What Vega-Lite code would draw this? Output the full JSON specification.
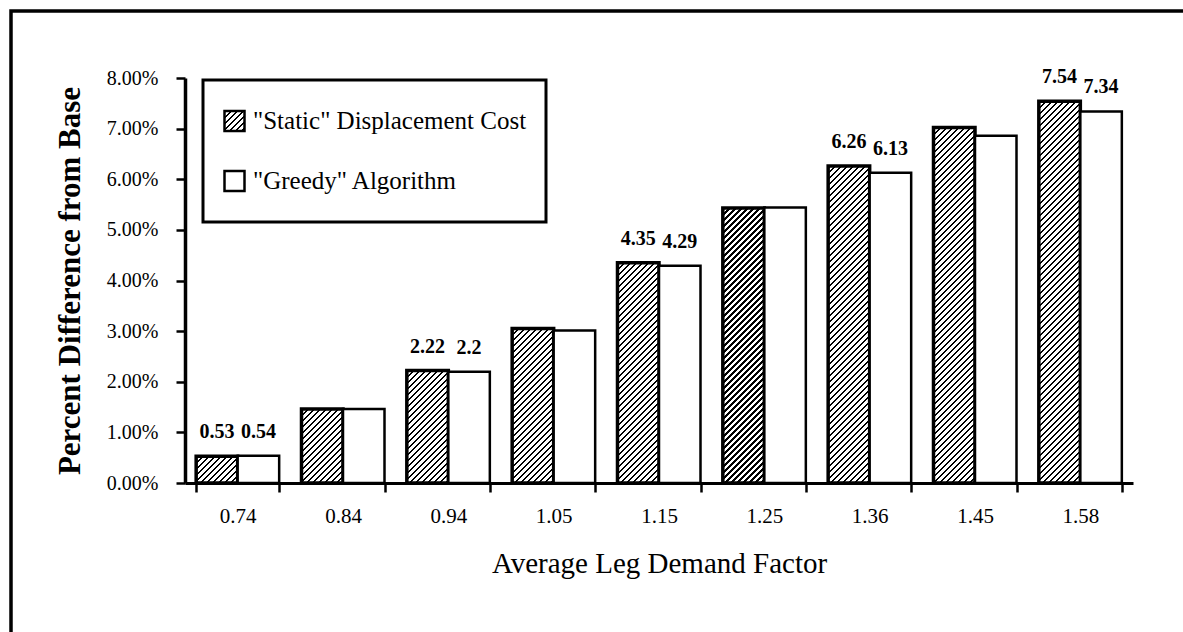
{
  "$schema": "https://vega.github.io/schema/vega-lite/v6.json",
  "width": 1183,
  "height": 632,
  "autosize": {"type": "none"},
  "padding": {"left": 11, "top": 11, "right": -11, "bottom": -11},
  "background": "white",
  "config": {
    "view": {"stroke": "black", "strokeWidth": 3.5},
    "font": "Liberation Serif",
    "legend": {"strokeWidth": 3}
  },
  "params": [
    {
      "name": "hatch",
      "value": [
        {"offset":0.00,"color":"#000"},{"offset":0.0035,"color":"#000"},{"offset":0.0035,"color":"#fff"},{"offset":0.01,"color":"#fff"},
        {"offset":0.01,"color":"#000"},{"offset":0.0135,"color":"#000"},{"offset":0.0135,"color":"#fff"},{"offset":0.02,"color":"#fff"},
        {"offset":0.02,"color":"#000"},{"offset":0.0235,"color":"#000"},{"offset":0.0235,"color":"#fff"},{"offset":0.03,"color":"#fff"},
        {"offset":0.03,"color":"#000"},{"offset":0.0335,"color":"#000"},{"offset":0.0335,"color":"#fff"},{"offset":0.04,"color":"#fff"},
        {"offset":0.04,"color":"#000"},{"offset":0.0435,"color":"#000"},{"offset":0.0435,"color":"#fff"},{"offset":0.05,"color":"#fff"},
        {"offset":0.05,"color":"#000"},{"offset":0.0535,"color":"#000"},{"offset":0.0535,"color":"#fff"},{"offset":0.06,"color":"#fff"},
        {"offset":0.06,"color":"#000"},{"offset":0.0635,"color":"#000"},{"offset":0.0635,"color":"#fff"},{"offset":0.07,"color":"#fff"},
        {"offset":0.07,"color":"#000"},{"offset":0.0735,"color":"#000"},{"offset":0.0735,"color":"#fff"},{"offset":0.08,"color":"#fff"},
        {"offset":0.08,"color":"#000"},{"offset":0.0835,"color":"#000"},{"offset":0.0835,"color":"#fff"},{"offset":0.09,"color":"#fff"},
        {"offset":0.09,"color":"#000"},{"offset":0.0935,"color":"#000"},{"offset":0.0935,"color":"#fff"},{"offset":0.10,"color":"#fff"},
        {"offset":0.10,"color":"#000"},{"offset":0.1035,"color":"#000"},{"offset":0.1035,"color":"#fff"},{"offset":0.11,"color":"#fff"},
        {"offset":0.11,"color":"#000"},{"offset":0.1135,"color":"#000"},{"offset":0.1135,"color":"#fff"},{"offset":0.12,"color":"#fff"},
        {"offset":0.12,"color":"#000"},{"offset":0.1235,"color":"#000"},{"offset":0.1235,"color":"#fff"},{"offset":0.13,"color":"#fff"},
        {"offset":0.13,"color":"#000"},{"offset":0.1335,"color":"#000"},{"offset":0.1335,"color":"#fff"},{"offset":0.14,"color":"#fff"},
        {"offset":0.14,"color":"#000"},{"offset":0.1435,"color":"#000"},{"offset":0.1435,"color":"#fff"},{"offset":0.15,"color":"#fff"},
        {"offset":0.15,"color":"#000"},{"offset":0.1535,"color":"#000"},{"offset":0.1535,"color":"#fff"},{"offset":0.16,"color":"#fff"},
        {"offset":0.16,"color":"#000"},{"offset":0.1635,"color":"#000"},{"offset":0.1635,"color":"#fff"},{"offset":0.17,"color":"#fff"},
        {"offset":0.17,"color":"#000"},{"offset":0.1735,"color":"#000"},{"offset":0.1735,"color":"#fff"},{"offset":0.18,"color":"#fff"},
        {"offset":0.18,"color":"#000"},{"offset":0.1835,"color":"#000"},{"offset":0.1835,"color":"#fff"},{"offset":0.19,"color":"#fff"},
        {"offset":0.19,"color":"#000"},{"offset":0.1935,"color":"#000"},{"offset":0.1935,"color":"#fff"},{"offset":0.20,"color":"#fff"},
        {"offset":0.20,"color":"#000"},{"offset":0.2035,"color":"#000"},{"offset":0.2035,"color":"#fff"},{"offset":0.21,"color":"#fff"},
        {"offset":0.21,"color":"#000"},{"offset":0.2135,"color":"#000"},{"offset":0.2135,"color":"#fff"},{"offset":0.22,"color":"#fff"},
        {"offset":0.22,"color":"#000"},{"offset":0.2235,"color":"#000"},{"offset":0.2235,"color":"#fff"},{"offset":0.23,"color":"#fff"},
        {"offset":0.23,"color":"#000"},{"offset":0.2335,"color":"#000"},{"offset":0.2335,"color":"#fff"},{"offset":0.24,"color":"#fff"},
        {"offset":0.24,"color":"#000"},{"offset":0.2435,"color":"#000"},{"offset":0.2435,"color":"#fff"},{"offset":0.25,"color":"#fff"},
        {"offset":0.25,"color":"#000"},{"offset":0.2535,"color":"#000"},{"offset":0.2535,"color":"#fff"},{"offset":0.26,"color":"#fff"},
        {"offset":0.26,"color":"#000"},{"offset":0.2635,"color":"#000"},{"offset":0.2635,"color":"#fff"},{"offset":0.27,"color":"#fff"},
        {"offset":0.27,"color":"#000"},{"offset":0.2735,"color":"#000"},{"offset":0.2735,"color":"#fff"},{"offset":0.28,"color":"#fff"},
        {"offset":0.28,"color":"#000"},{"offset":0.2835,"color":"#000"},{"offset":0.2835,"color":"#fff"},{"offset":0.29,"color":"#fff"},
        {"offset":0.29,"color":"#000"},{"offset":0.2935,"color":"#000"},{"offset":0.2935,"color":"#fff"},{"offset":0.30,"color":"#fff"},
        {"offset":0.30,"color":"#000"},{"offset":0.3035,"color":"#000"},{"offset":0.3035,"color":"#fff"},{"offset":0.31,"color":"#fff"},
        {"offset":0.31,"color":"#000"},{"offset":0.3135,"color":"#000"},{"offset":0.3135,"color":"#fff"},{"offset":0.32,"color":"#fff"},
        {"offset":0.32,"color":"#000"},{"offset":0.3235,"color":"#000"},{"offset":0.3235,"color":"#fff"},{"offset":0.33,"color":"#fff"},
        {"offset":0.33,"color":"#000"},{"offset":0.3335,"color":"#000"},{"offset":0.3335,"color":"#fff"},{"offset":0.34,"color":"#fff"},
        {"offset":0.34,"color":"#000"},{"offset":0.3435,"color":"#000"},{"offset":0.3435,"color":"#fff"},{"offset":0.35,"color":"#fff"},
        {"offset":0.35,"color":"#000"},{"offset":0.3535,"color":"#000"},{"offset":0.3535,"color":"#fff"},{"offset":0.36,"color":"#fff"},
        {"offset":0.36,"color":"#000"},{"offset":0.3635,"color":"#000"},{"offset":0.3635,"color":"#fff"},{"offset":0.37,"color":"#fff"},
        {"offset":0.37,"color":"#000"},{"offset":0.3735,"color":"#000"},{"offset":0.3735,"color":"#fff"},{"offset":0.38,"color":"#fff"},
        {"offset":0.38,"color":"#000"},{"offset":0.3835,"color":"#000"},{"offset":0.3835,"color":"#fff"},{"offset":0.39,"color":"#fff"},
        {"offset":0.39,"color":"#000"},{"offset":0.3935,"color":"#000"},{"offset":0.3935,"color":"#fff"},{"offset":0.40,"color":"#fff"},
        {"offset":0.40,"color":"#000"},{"offset":0.4035,"color":"#000"},{"offset":0.4035,"color":"#fff"},{"offset":0.41,"color":"#fff"},
        {"offset":0.41,"color":"#000"},{"offset":0.4135,"color":"#000"},{"offset":0.4135,"color":"#fff"},{"offset":0.42,"color":"#fff"},
        {"offset":0.42,"color":"#000"},{"offset":0.4235,"color":"#000"},{"offset":0.4235,"color":"#fff"},{"offset":0.43,"color":"#fff"},
        {"offset":0.43,"color":"#000"},{"offset":0.4335,"color":"#000"},{"offset":0.4335,"color":"#fff"},{"offset":0.44,"color":"#fff"},
        {"offset":0.44,"color":"#000"},{"offset":0.4435,"color":"#000"},{"offset":0.4435,"color":"#fff"},{"offset":0.45,"color":"#fff"},
        {"offset":0.45,"color":"#000"},{"offset":0.4535,"color":"#000"},{"offset":0.4535,"color":"#fff"},{"offset":0.46,"color":"#fff"},
        {"offset":0.46,"color":"#000"},{"offset":0.4635,"color":"#000"},{"offset":0.4635,"color":"#fff"},{"offset":0.47,"color":"#fff"},
        {"offset":0.47,"color":"#000"},{"offset":0.4735,"color":"#000"},{"offset":0.4735,"color":"#fff"},{"offset":0.48,"color":"#fff"},
        {"offset":0.48,"color":"#000"},{"offset":0.4835,"color":"#000"},{"offset":0.4835,"color":"#fff"},{"offset":0.49,"color":"#fff"},
        {"offset":0.49,"color":"#000"},{"offset":0.4935,"color":"#000"},{"offset":0.4935,"color":"#fff"},{"offset":0.50,"color":"#fff"},
        {"offset":0.50,"color":"#000"},{"offset":0.5035,"color":"#000"},{"offset":0.5035,"color":"#fff"},{"offset":0.51,"color":"#fff"},
        {"offset":0.51,"color":"#000"},{"offset":0.5135,"color":"#000"},{"offset":0.5135,"color":"#fff"},{"offset":0.52,"color":"#fff"},
        {"offset":0.52,"color":"#000"},{"offset":0.5235,"color":"#000"},{"offset":0.5235,"color":"#fff"},{"offset":0.53,"color":"#fff"},
        {"offset":0.53,"color":"#000"},{"offset":0.5335,"color":"#000"},{"offset":0.5335,"color":"#fff"},{"offset":0.54,"color":"#fff"},
        {"offset":0.54,"color":"#000"},{"offset":0.5435,"color":"#000"},{"offset":0.5435,"color":"#fff"},{"offset":0.55,"color":"#fff"},
        {"offset":0.55,"color":"#000"},{"offset":0.5535,"color":"#000"},{"offset":0.5535,"color":"#fff"},{"offset":0.56,"color":"#fff"},
        {"offset":0.56,"color":"#000"},{"offset":0.5635,"color":"#000"},{"offset":0.5635,"color":"#fff"},{"offset":0.57,"color":"#fff"},
        {"offset":0.57,"color":"#000"},{"offset":0.5735,"color":"#000"},{"offset":0.5735,"color":"#fff"},{"offset":0.58,"color":"#fff"},
        {"offset":0.58,"color":"#000"},{"offset":0.5835,"color":"#000"},{"offset":0.5835,"color":"#fff"},{"offset":0.59,"color":"#fff"},
        {"offset":0.59,"color":"#000"},{"offset":0.5935,"color":"#000"},{"offset":0.5935,"color":"#fff"},{"offset":0.60,"color":"#fff"},
        {"offset":0.60,"color":"#000"},{"offset":0.6035,"color":"#000"},{"offset":0.6035,"color":"#fff"},{"offset":0.61,"color":"#fff"},
        {"offset":0.61,"color":"#000"},{"offset":0.6135,"color":"#000"},{"offset":0.6135,"color":"#fff"},{"offset":0.62,"color":"#fff"},
        {"offset":0.62,"color":"#000"},{"offset":0.6235,"color":"#000"},{"offset":0.6235,"color":"#fff"},{"offset":0.63,"color":"#fff"},
        {"offset":0.63,"color":"#000"},{"offset":0.6335,"color":"#000"},{"offset":0.6335,"color":"#fff"},{"offset":0.64,"color":"#fff"},
        {"offset":0.64,"color":"#000"},{"offset":0.6435,"color":"#000"},{"offset":0.6435,"color":"#fff"},{"offset":0.65,"color":"#fff"},
        {"offset":0.65,"color":"#000"},{"offset":0.6535,"color":"#000"},{"offset":0.6535,"color":"#fff"},{"offset":0.66,"color":"#fff"},
        {"offset":0.66,"color":"#000"},{"offset":0.6635,"color":"#000"},{"offset":0.6635,"color":"#fff"},{"offset":0.67,"color":"#fff"},
        {"offset":0.67,"color":"#000"},{"offset":0.6735,"color":"#000"},{"offset":0.6735,"color":"#fff"},{"offset":0.68,"color":"#fff"},
        {"offset":0.68,"color":"#000"},{"offset":0.6835,"color":"#000"},{"offset":0.6835,"color":"#fff"},{"offset":0.69,"color":"#fff"},
        {"offset":0.69,"color":"#000"},{"offset":0.6935,"color":"#000"},{"offset":0.6935,"color":"#fff"},{"offset":0.70,"color":"#fff"},
        {"offset":0.70,"color":"#000"},{"offset":0.7035,"color":"#000"},{"offset":0.7035,"color":"#fff"},{"offset":0.71,"color":"#fff"},
        {"offset":0.71,"color":"#000"},{"offset":0.7135,"color":"#000"},{"offset":0.7135,"color":"#fff"},{"offset":0.72,"color":"#fff"},
        {"offset":0.72,"color":"#000"},{"offset":0.7235,"color":"#000"},{"offset":0.7235,"color":"#fff"},{"offset":0.73,"color":"#fff"},
        {"offset":0.73,"color":"#000"},{"offset":0.7335,"color":"#000"},{"offset":0.7335,"color":"#fff"},{"offset":0.74,"color":"#fff"},
        {"offset":0.74,"color":"#000"},{"offset":0.7435,"color":"#000"},{"offset":0.7435,"color":"#fff"},{"offset":0.75,"color":"#fff"}
      ]
    }
  ],
  "data": {
    "values": [
      {"factor": "0.74", "series": "\"Static\" Displacement Cost", "value": 0.53, "label": "0.53"},
      {"factor": "0.74", "series": "\"Greedy\" Algorithm", "value": 0.54, "label": "0.54"},
      {"factor": "0.84", "series": "\"Static\" Displacement Cost", "value": 1.46},
      {"factor": "0.84", "series": "\"Greedy\" Algorithm", "value": 1.46},
      {"factor": "0.94", "series": "\"Static\" Displacement Cost", "value": 2.22, "label": "2.22"},
      {"factor": "0.94", "series": "\"Greedy\" Algorithm", "value": 2.2, "label": "2.2"},
      {"factor": "1.05", "series": "\"Static\" Displacement Cost", "value": 3.05},
      {"factor": "1.05", "series": "\"Greedy\" Algorithm", "value": 3.01},
      {"factor": "1.15", "series": "\"Static\" Displacement Cost", "value": 4.35, "label": "4.35"},
      {"factor": "1.15", "series": "\"Greedy\" Algorithm", "value": 4.29, "label": "4.29"},
      {"factor": "1.25", "series": "\"Static\" Displacement Cost", "value": 5.43},
      {"factor": "1.25", "series": "\"Greedy\" Algorithm", "value": 5.44},
      {"factor": "1.36", "series": "\"Static\" Displacement Cost", "value": 6.26, "label": "6.26"},
      {"factor": "1.36", "series": "\"Greedy\" Algorithm", "value": 6.13, "label": "6.13"},
      {"factor": "1.45", "series": "\"Static\" Displacement Cost", "value": 7.02},
      {"factor": "1.45", "series": "\"Greedy\" Algorithm", "value": 6.86},
      {"factor": "1.58", "series": "\"Static\" Displacement Cost", "value": 7.54, "label": "7.54"},
      {"factor": "1.58", "series": "\"Greedy\" Algorithm", "value": 7.34, "label": "7.34"}
    ]
  },
  "encoding": {
    "x": {
      "field": "factor",
      "type": "nominal",
      "sort": null,
      "scale": {"range": [174, 1122], "paddingInner": 0.212, "paddingOuter": 0.106},
      "axis": {
        "title": "Average Leg Demand Factor",
        "titleFontSize": 29,
        "titleFontWeight": "normal",
        "titleColor": "black",
        "titlePadding": 23,
        "labelAngle": 0,
        "labelFontSize": 21,
        "labelColor": "black",
        "labelPadding": 13,
        "tickBand": "extent",
        "tickSize": 9,
        "tickWidth": 2.5,
        "tickColor": "black",
        "domainColor": "black",
        "domainWidth": 3,
        "offset": -160,
        "grid": false
      }
    },
    "xOffset": {
      "field": "series",
      "type": "nominal",
      "sort": null,
      "scale": {"paddingInner": 0, "paddingOuter": 0}
    },
    "y": {
      "field": "value",
      "type": "quantitative",
      "scale": {"domain": [0, 8], "range": [472, 67], "nice": false},
      "axis": {
        "title": "Percent Difference from Base",
        "titleFontSize": 31,
        "titleFontWeight": "bold",
        "titleColor": "black",
        "titlePadding": 20,
        "values": [0, 1, 2, 3, 4, 5, 6, 7, 8],
        "labelExpr": "format(datum.value, '.2f') + '%'",
        "labelFontSize": 20,
        "labelColor": "black",
        "labelPadding": 18,
        "tickSize": 9,
        "tickWidth": 2.5,
        "tickColor": "black",
        "domainColor": "black",
        "domainWidth": 3.5,
        "offset": -174,
        "grid": false
      }
    }
  },
  "layer": [
    {
      "mark": {"type": "bar", "fillOpacity": 1, "strokeOpacity": 1},
      "encoding": {
        "fill": {
          "value": {
            "expr": "isValid(datum.series) ? (datum.series === '\"Static\" Displacement Cost' ? {gradient:'linear',x1:0,y1:0,x2:600*bandwidth('xOffset')/(pow(bandwidth('xOffset'),2)+pow(scale('y',0)-scale('y',datum.value),2)),y2:600*(scale('y',0)-scale('y',datum.value))/(pow(bandwidth('xOffset'),2)+pow(scale('y',0)-scale('y',datum.value),2)),stops:hatch} : 'white') : (datum.value === '\"Static\" Displacement Cost' ? {gradient:'linear',x1:0,y1:0,x2:15,y2:15,stops:hatch} : 'white')"
          }
        },
        "stroke": {
          "field": "series",
          "type": "nominal",
          "sort": null,
          "scale": {"range": ["black", "black"]},
          "legend": {
            "title": null,
            "orient": "none",
            "legendX": 192,
            "legendY": 69,
            "direction": "vertical",
            "symbolType": "square",
            "symbolSize": 400,
            "symbolStrokeWidth": 2.5,
            "symbolStrokeColor": "black",
            "labelFontSize": 25,
            "labelColor": "black",
            "labelLimit": 500,
            "labelOffset": 6,
            "padding": 19,
            "rowPadding": 16,
            "clipHeight": 44,
            "strokeColor": "black",
            "fillColor": "white",
            "encode": {
              "symbols": {
                "fill": {"value": {"expr": "datum.value === '\"Static\" Displacement Cost' ? {gradient:'linear',x1:0,y1:0,x2:15,y2:15,stops:hatch} : 'white'"}}
              }
            }
          }
        },
        "strokeWidth": {
          "condition": {"test": "datum.series === '\"Static\" Displacement Cost' || datum.value === '\"Static\" Displacement Cost'", "value": 3.5},
          "value": 2.5
        }
      }
    },
    {
      "transform": [{"filter": "isValid(datum.label)"}],
      "mark": {
        "type": "text",
        "fontWeight": "bold",
        "fontSize": 20,
        "baseline": "middle",
        "dy": -24,
        "color": "black"
      },
      "encoding": {
        "text": {"field": "label", "type": "nominal"}
      }
    }
  ]
}
